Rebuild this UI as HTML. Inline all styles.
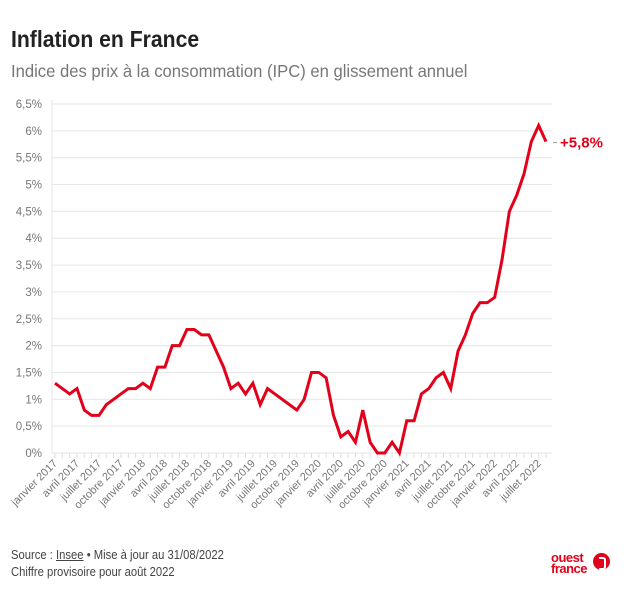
<!DOCTYPE html>
<html><head><meta charset="utf-8"><style>
body{margin:0;background:#fff;width:624px;height:589px;overflow:hidden;font-family:"Liberation Sans",sans-serif;}
#title{position:absolute;left:11px;top:26px;font-size:23px;font-weight:bold;color:#222;transform:scaleX(0.92);transform-origin:left;white-space:nowrap;}
#sub{position:absolute;left:11px;top:61px;font-size:17.5px;color:#777;transform:scaleX(0.95);transform-origin:left;white-space:nowrap;}
.foot{position:absolute;left:11px;font-size:12.5px;color:#444;transform:scaleX(0.9);transform-origin:left;white-space:nowrap;}
svg{position:absolute;left:0;top:0;}
</style></head><body>
<div id="title">Inflation en France</div>
<div id="sub">Indice des prix à la consommation (IPC) en glissement annuel</div>
<div class="foot" style="top:548px">Source : <u>Insee</u> • Mise à jour au 31/08/2022</div>
<div class="foot" style="top:565px">Chiffre provisoire pour août 2022</div>
<div style="position:absolute;left:551px;top:552px;color:#e2001a;font-size:13px;font-weight:bold;line-height:11px;letter-spacing:-0.5px;">ouest<br>france</div>
<div style="position:absolute;left:593px;top:553px;width:17px;height:17px;border-radius:50%;background:#e2001a;"><div style="position:absolute;left:6px;top:4px;width:5px;height:9px;border:2px solid #fff;border-left:none;border-radius:0 3px 3px 0;"></div></div>
<svg id="chart" width="624" height="589"></svg>
<script>
const values=[1.3,1.2,1.1,1.2,0.8,0.7,0.7,0.9,1.0,1.1,1.2,1.2,
1.3,1.2,1.6,1.6,2.0,2.0,2.3,2.3,2.2,2.2,1.9,1.6,
1.2,1.3,1.1,1.3,0.9,1.2,1.1,1.0,0.9,0.8,1.0,1.5,
1.5,1.4,0.7,0.3,0.4,0.2,0.8,0.2,0.0,0.0,0.2,0.0,
0.6,0.6,1.1,1.2,1.4,1.5,1.2,1.9,2.2,2.6,2.8,2.8,
2.9,3.6,4.5,4.8,5.2,5.8,6.1,5.8];
const yTicks=[0,0.5,1,1.5,2,2.5,3,3.5,4,4.5,5,5.5,6,6.5];
const yTickLabels=["0%","0,5%","1%","1,5%","2%","2,5%","3%","3,5%","4%","4,5%","5%","5,5%","6%","6,5%"];
const xLabels=["janvier 2017","avril 2017","juillet 2017","octobre 2017","janvier 2018","avril 2018","juillet 2018","octobre 2018","janvier 2019","avril 2019","juillet 2019","octobre 2019","janvier 2020","avril 2020","juillet 2020","octobre 2020","janvier 2021","avril 2021","juillet 2021","octobre 2021","janvier 2022","avril 2022","juillet 2022"];
const lastLabel="+5,8%";
const NS="http://www.w3.org/2000/svg",svg=document.getElementById('chart');
const x0=55,x1=546,yb=453,yt=104;
const xs=i=>x0+(x1-x0)*i/(values.length-1);
const ys=v=>yb-(yb-yt)*v/6.5;
function mk(t,a){const e=document.createElementNS(NS,t);for(const k in a)e.setAttribute(k,a[k]);svg.appendChild(e);return e;}
yTicks.forEach((v,i)=>{
 const g=mk('line',{x1:52,x2:552,y1:ys(v),y2:ys(v),stroke:'#e6e6e6','stroke-width':1});
 
 
 const t=mk('text',{x:42,y:ys(v)+4,'text-anchor':'end','font-size':11.5,fill:'#777','font-family':'Liberation Sans, sans-serif'});
 t.textContent=yTickLabels[i];
 
 
});
const ax=mk('line',{x1:52,x2:52,y1:yt-4,y2:yb,stroke:'#e6e6e6'});


values.forEach((v,i)=>{
 const tk=mk('line',{x1:xs(i),x2:xs(i),y1:yb,y2:yb+5,stroke:'#ddd'});
 
 
});
xLabels.forEach((l,j)=>{
 const x=xs(j*3),y=yb+11;
 const t=mk('text',{x:x+3,y:y,'text-anchor':'end','font-size':11,fill:'#777','font-family':'Liberation Sans, sans-serif',transform:`rotate(-45 ${x+3} ${y})`});
 t.textContent=l;
 
 
});
const p=mk('polyline',{points:values.map((v,i)=>xs(i)+','+ys(v)).join(' '),fill:'none',stroke:'#e2001a','stroke-width':3,'stroke-linejoin':'miter'});


const lv=values[values.length-1];
const d=mk('line',{x1:553,x2:557,y1:ys(lv)+1,y2:ys(lv)+1,stroke:'#999'});


const lt=mk('text',{x:560,y:ys(lv)+6,'font-size':15,'font-weight':'bold',fill:'#e2001a','font-family':'Liberation Sans, sans-serif'});
lt.textContent=lastLabel;


</script>
</body></html>
